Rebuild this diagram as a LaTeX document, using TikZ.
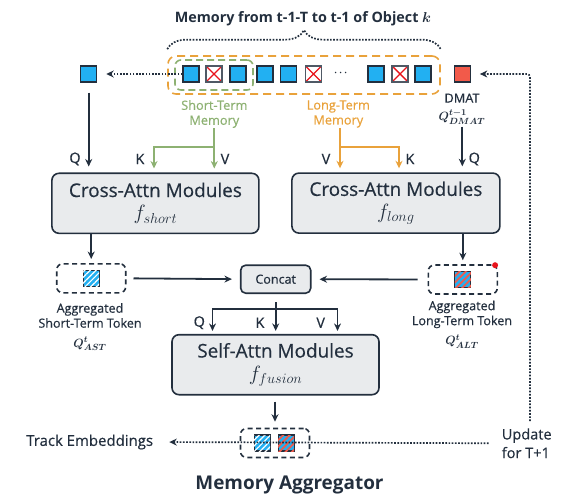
\documentclass[tikz,border=0pt]{standalone}
\usepackage{fontspec}
\setmainfont{Open Sans}[UprightFeatures={FakeBold=0.5}]
\usepackage{amsmath}
\usepackage{tikz}
\usetikzlibrary{positioning, arrows.meta, decorations.pathreplacing, patterns.meta}
\definecolor{navy}{HTML}{232F3E}
\definecolor{tokblue}{HTML}{22B0F2}
\definecolor{tokred}{HTML}{F25A4A}
\definecolor{xred}{HTML}{E8141C}
\definecolor{boxgray}{HTML}{E9EBED}
\definecolor{stgreen}{HTML}{8DB172}
\definecolor{ltorange}{HTML}{E9A23B}
% font sizes
\newcommand\titlefont{\bfseries\fontsize{14.4}{17}\selectfont}
\newcommand\bigtitlefont{\bfseries\fontsize{19}{22}\selectfont}
\newcommand\modfont{\fontsize{19}{23}\selectfont}
\newcommand\subfont{\fontsize{20}{24}\selectfont}
\newcommand\lblfont{\fontsize{12.6}{15}\selectfont}
\newcommand\memfont{\fontsize{12.8}{15}\selectfont}
\newcommand\qkvfont{\fontsize{14.5}{16}\selectfont}
\tikzset{%
  >={Stealth[width=7bp, length=7.5bp]}, % bold arrow heads
  % memory token (one square per frame)
  token/.style={rectangle, draw=navy, line width=1.1bp, fill=tokblue, minimum size=16bp, inner sep=0pt},
  % dropped token with a red cross
  droptok/.style={token, fill=white, draw=navy!80,
    path picture={\draw[xred, line width=1.4bp]
      (path picture bounding box.south west) -- (path picture bounding box.north east)
      (path picture bounding box.north west) -- (path picture bounding box.south east);}},
  % aggregated tokens, striped
  asttok/.style={token, postaction={pattern={Lines[angle=45, distance=4bp, line width=1.2bp]}, pattern color=white}},
  alttok/.style={token, postaction={pattern={Lines[angle=45, distance=4.5bp, line width=1.8bp]}, pattern color=tokred}},
  % attention modules
  module/.style={rectangle, draw=navy, fill=boxgray, line width=1.6bp, rounded corners=7bp,
    minimum width=207bp, minimum height=60bp, align=center, text=navy, font=\modfont},
  concatbox/.style={rectangle, draw=navy, fill=boxgray, line width=1.6bp, rounded corners=5bp,
    minimum width=70bp, minimum height=28bp, text=navy, font=\lblfont},
  aggbox/.style={rectangle, draw=navy, line width=1.6bp, dash pattern=on 5bp off 3.5bp, rounded corners=6bp,
    minimum width=69bp, minimum height=29bp},
  stbox/.style={rectangle, draw=stgreen, line width=1.6bp, dash pattern=on 7bp off 4bp, rounded corners=6bp,
    minimum width=78bp, minimum height=30bp},
  ltbox/.style={rectangle, draw=ltorange, line width=1.6bp, dash pattern=on 8bp off 5bp, rounded corners=8bp,
    minimum width=272bp, minimum height=38bp},
  % texts
  lbl/.style={text=navy, inner sep=0pt, align=center, font=\lblfont},
  qkv/.style={text=navy, inner sep=0pt, font=\qkvfont},
  flow/.style={->, draw=navy, line width=1.8bp},
  dotflow/.style={->, draw=navy, line width=1.7bp, dash pattern=on 1.7bp off 1.5bp},
}

\begin{document}
\begin{tikzpicture}[x=1bp, y=-1bp]
  \path[use as bounding box] (0,0) rectangle (565,502);
  % memory bank of object k
  \node[lbl, font=\titlefont] (memtitle) at (303,19) {Memory from t-1-T to t-1 of Object $\boldsymbol{k}$};
  \node[ltbox] (ltbox) at (304,75) {};
  \node[stbox] (stbox) at (214,75) {};
  \draw[navy, line width=1.7bp, dash pattern=on 1.7bp off 1.5bp, decorate, decoration={brace, amplitude=19bp}]
    ([yshift=6bp]ltbox.north west) -- ([yshift=6bp]ltbox.north east);
  \foreach \x/\i in {191/1, 238/3, 265/4, 288.5/5, 376/7, 423/9} {
    \node[token] (m\i) at (\x,74) {};
  }
  \foreach \x/\i in {214/2, 313.5/6, 400/8} {
    \node[droptok] (m\i) at (\x,74) {};
  }
  \node[text=navy, inner sep=0pt] (dots) at (341.7,73) {$\boldsymbol{\cdots}$};
  \node[token, fill=tokred] (dmat) at (462.3,74) {};
  \node[token] (qtok) at (88.7,74) {};
  \node[lbl, text=stgreen, font=\memfont] (stlab) at (214.3,114) {Short-Term\\Memory};
  \node[lbl, text=ltorange, font=\memfont] (ltlab) at (338.3,114) {Long-Term\\Memory};
  \node[lbl, font=\memfont] (dmatlab) at (462,109) {DMAT\\[3bp]$\boldsymbol{Q_{DMAT}^{t-1}}$};

  % cross attention
  \node[module] (shortca) at (155.4,203.3) {Cross-Attn Modules\\\subfont$f_{short}$};
  \node[module, minimum width=208bp] (longca) at (395.9,203.1) {Cross-Attn Modules\\\subfont$f_{long}$};
  \draw[dotflow] (m1.west) -- ([xshift=9bp]qtok.east);
  \draw[flow, shorten <=10bp, shorten >=6bp] (qtok.south) -- (qtok.south |- shortca.north);
  \draw[flow, shorten <=2bp, shorten >=6bp] (dmatlab.south -| dmat.south) -- (dmat.south |- longca.north);
  \coordinate (stfork) at (214.3,146.7);
  \coordinate (ltfork) at (340,146.7);
  \draw[flow, draw=stgreen] (stlab.south) -- (stfork) -- ([yshift=4bp]stfork |- shortca.north);
  \draw[flow, draw=stgreen] (stfork) -| ([yshift=4bp,xshift=-1.4bp]shortca.north);
  \draw[flow, draw=ltorange] (ltlab.south -| ltfork) -- (ltfork) -- ([yshift=4bp]ltfork |- longca.north);
  \draw[flow, draw=ltorange] (ltfork) -| ([yshift=4bp,xshift=59bp]ltfork |- longca.north);
  \node[qkv] (q1) at (75,159) {Q};
  \node[qkv] (k1) at (140,159) {K};
  \node[qkv] (v1) at (225,159) {V};
  \node[qkv] (v2) at (326,159) {V};
  \node[qkv] (k2) at (410,159) {K};
  \node[qkv] (q2) at (474.3,159) {Q};

  % aggregated tokens and concat
  \node[aggbox] (aggshort) at (91.2,278.3) {};
  \node[asttok] (ast) at (aggshort) {};
  \node[aggbox] (agglong) at (462.8,279.5) {};
  \node[alttok] (alt) at (agglong) {};
  \fill[xred] ([xshift=-3bp, yshift=-1bp]agglong.north east) circle (3bp);
  \node[concatbox] (concat) at (275.7,279.2) {Concat};
  \draw[flow, shorten >=4bp] (aggshort.north |- shortca.south) -- (aggshort.north);
  \draw[flow, shorten >=4bp] (agglong.north |- longca.south) -- (agglong.north);
  \draw[flow, shorten <=7bp, shorten >=8bp] (aggshort.east) -- (concat.west);
  \draw[flow, shorten <=10bp, shorten >=8bp] (agglong.west) -- (concat.east);
  \node[lbl] (astlab) at (90,327) {Aggregated\\Short-Term Token\\[4.5bp]$\boldsymbol{Q_{AST}^{t}}$};
  \node[lbl] (altlab) at (462,324.5) {Aggregated\\Long-Term Token\\[4.5bp]$\boldsymbol{Q_{ALT}^{t}}$};

  % self attention fusion
  \node[module] (selfattn) at (275.5,364.7) {Self-Attn Modules\\\subfont$f_{fusion}$};
  \draw[flow, shorten <=8bp, shorten >=3bp] (concat.south) -- (concat.south |- selfattn.north);
  \draw[flow, shorten >=3bp] ([yshift=-15bp]concat.south) -| ([xshift=-63bp]selfattn.north);
  \draw[flow, shorten >=3bp] ([yshift=-15bp]concat.south) -| ([xshift=62bp]selfattn.north);
  \node[qkv] (q3) at (199.3,322.7) {Q};
  \node[qkv] (k3) at (260,322.7) {K};
  \node[qkv] (v3) at (320.7,322.7) {V};

  % output and update
  \node[aggbox] (aggout) at (275,443) {};
  \node[asttok] (outst) at (262.2,443) {};
  \node[alttok] (outlt) at (286.2,443) {};
  \draw[flow, shorten <=6bp, shorten >=6bp] (aggout.north |- selfattn.south) -- (aggout.north);
  \node[lbl, font=\fontsize{15}{18}\selectfont] (track) at (89.7,442) {Track Embeddings};
  \node[lbl, align=left, font=\fontsize{14.6}{18.7}\selectfont] (update) at (526.7,443.3) {Update\\for T+1};
  \draw[dotflow, shorten <=13bp, shorten >=16bp] (update.west) -- (track.east);
  \draw[dotflow, rounded corners=3bp, shorten <=7bp, shorten >=9bp] ([xshift=3.3bp]update.north) |- (dmat.east);
  \node[lbl, font=\bigtitlefont] (title) at (289.5,485) {Memory Aggregator};
\end{tikzpicture}
\end{document}
